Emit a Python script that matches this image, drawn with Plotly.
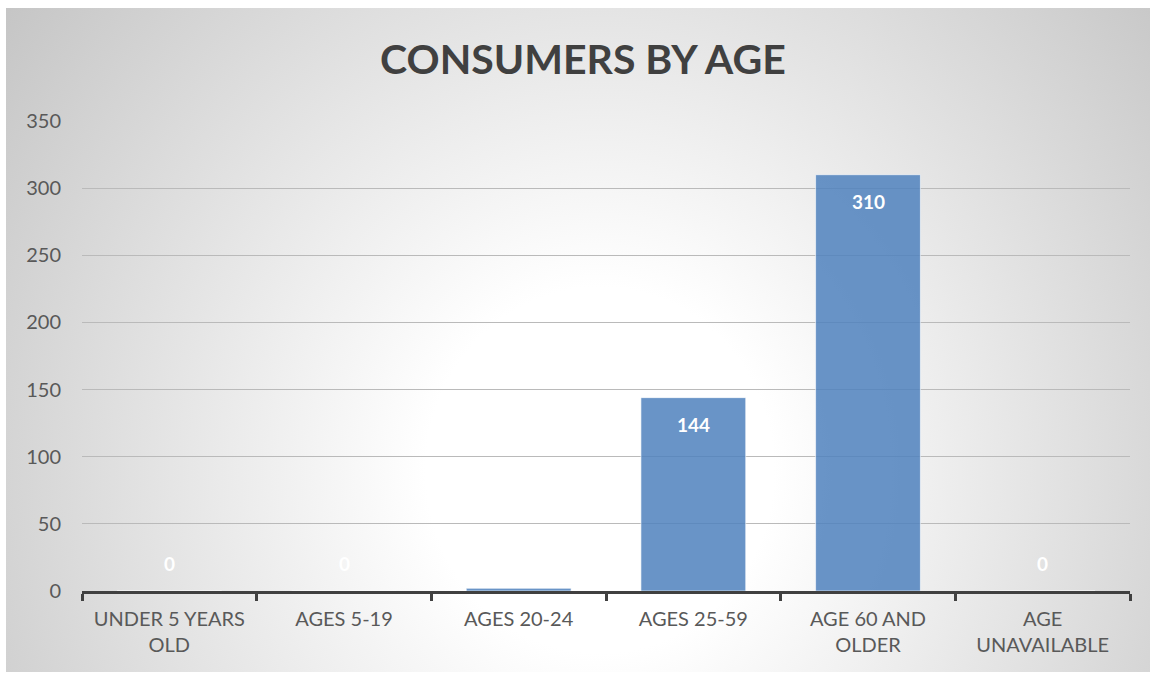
import plotly.graph_objects as go

categories = ["UNDER 5 YEARS<br>OLD", "AGES 5-19", "AGES 20-24", "AGES 25-59", "AGE 60 AND<br>OLDER", "AGE<br>UNAVAILABLE"]
values = [0, 0, 2, 144, 310, 0]
labels = ["0", "0", "2", "144", "310", "0"]
y_ticks = [0, 50, 100, 150, 200, 250, 300, 350]

FONT = "Lato"
TEXT = "#595959"

fig = go.Figure()

# radial gradient background (drawn on a full-area helper subplot)
cx, cy, hw, hh = 0.519, 0.304, 0.76, 1.378
fig.add_trace(go.Scatter(
    x=[cx - hw, cx + hw, cx + hw, cx - hw, cx - hw],
    y=[cy - hh, cy - hh, cy + hh, cy + hh, cy - hh],
    mode="lines", line=dict(width=0), fill="toself",
    fillgradient=dict(type="radial",
                      colorscale=[[0, "#ffffff"], [0.2, "#ffffff"], [1, "#b8b8b8"]]),
    hoverinfo="skip", showlegend=False, xaxis="x", yaxis="y",
))

fig.add_trace(go.Bar(
    x=categories, y=values,
    marker=dict(color="rgba(79,129,189,0.85)", line=dict(color="rgba(255,255,255,0.6)", width=1)),
    hoverinfo="skip", showlegend=False, xaxis="x2", yaxis="y2",
))

for c, v, t in zip(categories, values, labels):
    fig.add_annotation(x=c, y=v, xref="x2", yref="y2", text="<b>" + t + "</b>",
                       showarrow=False, font=dict(family=FONT, size=19, color="white"),
                       yshift=(-27 if v > 20 else 28))

W, H = 1152, 675
ml, mr, mt, mb = 6, 2, 8, 3
pw, ph = W - ml - mr, H - mt - mb
px0, px1, py_top, py_bot = 82, 1130, 121, 591

fig.update_layout(
    width=W, height=H,
    margin=dict(l=ml, r=mr, t=mt, b=mb, pad=0, autoexpand=False),
    paper_bgcolor="white", plot_bgcolor="rgba(0,0,0,0)",
    title=dict(text="<b>CONSUMERS BY AGE</b>", x=0.506, xanchor="center", y=1 - 60 / H, yanchor="middle",
               font=dict(family=FONT, size=41, color="#404040")),
    bargap=0.4,
    xaxis=dict(domain=[0, 1], range=[0, 1], visible=False, fixedrange=True),
    yaxis=dict(domain=[0, 1], range=[0, 1], visible=False, fixedrange=True),
    xaxis2=dict(domain=[(px0 - ml) / pw, (px1 - ml) / pw], anchor="y2",
                showline=True, linecolor="#404040", linewidth=3,
                ticks="outside", tickson="boundaries", ticklen=7, tickwidth=3, tickcolor="#404040",
                ticklabelstandoff=8,
                tickfont=dict(family=FONT, size=20, color=TEXT), showgrid=False),
    yaxis2=dict(domain=[(H - mb - py_bot) / ph, (H - mb - py_top) / ph], anchor="x2",
                range=[0, 350], tickvals=y_ticks, showline=False, zeroline=False,
                gridcolor="#bababa", gridwidth=1, ticks="", ticklabelstandoff=20,
                tickfont=dict(family=FONT, size=20, color=TEXT)),
)

fig.write_html("out.html")
